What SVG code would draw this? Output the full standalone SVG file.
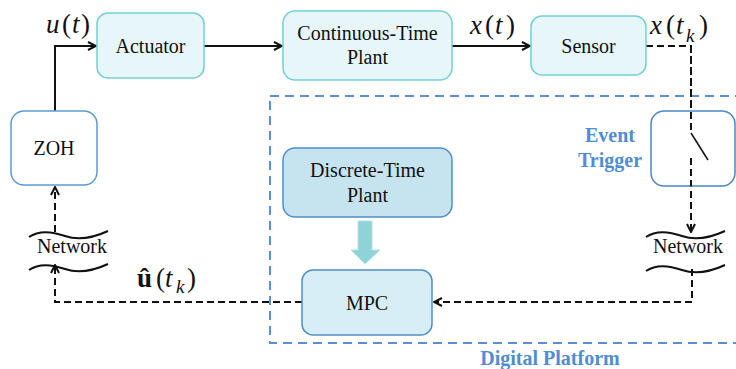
<svg xmlns="http://www.w3.org/2000/svg" width="736" height="369" viewBox="0 0 736 369">
  <style>
    .lbl { font-family: "Liberation Serif", "Times New Roman", serif; font-size: 20px; fill: #111; text-anchor: middle; }
    .math { font-family: "Liberation Serif", "Times New Roman", serif; font-size: 27px; fill: #111; }
    .it { font-style: italic; }
    .blue { font-family: "Liberation Serif", "Times New Roman", serif; font-size: 20px; font-weight: bold; fill: #4f8ed2; text-anchor: middle; }
    .cont { fill: #e6f6f9; stroke: #74cfd3; stroke-width: 1.5; }
    .zoh { fill: #ffffff; stroke: #5b9bd5; stroke-width: 1.5; }
    .digi { stroke: #4f8fc8; stroke-width: 1.5; }
    .solid { fill: none; stroke: #111; stroke-width: 2; }
    .dash { fill: none; stroke: #111; stroke-width: 2; stroke-dasharray: 7 4; }
    .wave { fill: none; stroke: #111; stroke-width: 2; }
  </style>
  <defs>
    <marker id="arr" viewBox="0 0 10 10" refX="9" refY="5" markerWidth="10" markerHeight="10" markerUnits="userSpaceOnUse" orient="auto">
      <path d="M1,1 L9,5 L1,9" fill="none" stroke="#111" stroke-width="2"/>
    </marker>
  </defs>

  <!-- digital platform boundary -->
  <g id="digital-platform">
    <rect x="270" y="96" width="480" height="247" fill="none" stroke="#5b8ed2" stroke-width="2" stroke-dasharray="9 6"/>
    <text class="blue" x="550" y="365">Digital Platform</text>
  </g>

  <!-- connectors -->
  <g id="connectors">
    <polyline class="solid" points="55,111 55,46 96,46" marker-end="url(#arr)"/>
    <line class="solid" x1="204" y1="46" x2="282" y2="46" marker-end="url(#arr)"/>
    <line class="solid" x1="452" y1="46" x2="530" y2="46" marker-end="url(#arr)"/>
    <polyline class="dash" points="646,46 691,46 691,133"/>
    <line class="dash" x1="691" y1="158" x2="691" y2="232" marker-end="url(#arr)"/>
    <polyline class="dash" points="692,269 692,302 434,302" marker-end="url(#arr)"/>
    <polyline class="dash" points="302,302 55,302 55,265" marker-end="url(#arr)"/>
    <line class="dash" x1="55" y1="232" x2="55" y2="187" marker-end="url(#arr)"/>
    <!-- model hand-off arrow -->
    <polygon points="358,221 372,221 372,250 380,250 365,264 351,250 358,250" fill="#8dd3d7" stroke="#b5e3e6" stroke-width="1"/>
  </g>

  <g id="actuator">
    <rect class="cont" x="97" y="13" width="107" height="65" rx="11"/>
    <text class="lbl" x="150.5" y="53">Actuator</text>
  </g>

  <g id="continuous-plant">
    <rect class="cont" x="283" y="11" width="169" height="69" rx="12"/>
    <text class="lbl" x="367.5" y="40">Continuous-Time</text>
    <text class="lbl" x="367.5" y="64">Plant</text>
  </g>

  <g id="sensor">
    <rect class="cont" x="531" y="16" width="115" height="59" rx="11"/>
    <text class="lbl" x="588.5" y="53">Sensor</text>
  </g>

  <g id="zoh">
    <rect class="zoh" x="11" y="111" width="86" height="74" rx="13"/>
    <text class="lbl" x="54" y="155">ZOH</text>
  </g>

  <g id="discrete-plant">
    <rect class="digi" fill="#c6e4ef" x="283" y="148" width="169" height="69" rx="12"/>
    <text class="lbl" x="367.5" y="177">Discrete-Time</text>
    <text class="lbl" x="367.5" y="202">Plant</text>
  </g>

  <g id="mpc">
    <rect class="digi" fill="#d8eef7" x="302" y="270" width="130" height="65" rx="11"/>
    <text class="lbl" x="367" y="310">MPC</text>
  </g>

  <g id="event-trigger">
    <rect x="651" y="111" width="84" height="75" rx="13" fill="#ffffff" stroke="#4a86c8" stroke-width="1.5"/>
    <line class="dash" x1="691" y1="46" x2="691" y2="133"/>
    <line x1="691" y1="133" x2="708" y2="160" stroke="#111" stroke-width="1.5"/>
    <line class="dash" x1="691" y1="158" x2="691" y2="186"/>
    <text class="blue" x="610" y="142">Event</text>
    <text class="blue" x="610" y="167">Trigger</text>
  </g>

  <g id="network-uplink">
    <path class="wave" d="M646,237 C656,230 668,231 682,236 S712,237 725,231"/>
    <text class="lbl" x="688" y="253">Network</text>
    <path class="wave" d="M646,271 C656,264 668,265 682,270 S712,271 725,265"/>
  </g>

  <g id="network-downlink">
    <path class="wave" d="M29,237 C39,230 51,231 65,236 S95,237 108,231"/>
    <text class="lbl" x="72" y="253">Network</text>
    <path class="wave" d="M29,270 C39,263 51,264 65,269 S95,270 108,264"/>
  </g>

  <!-- signal labels -->
  <g id="signals">
    <text class="math" y="33"><tspan class="it" x="46">u</tspan><tspan x="62">(</tspan><tspan class="it" x="72">t</tspan><tspan x="81">)</tspan></text>
    <text class="math" y="34"><tspan class="it" x="470">x</tspan><tspan x="485">(</tspan><tspan class="it" x="495">t</tspan><tspan x="506">)</tspan></text>
    <text class="math" y="34"><tspan class="it" x="650">x</tspan><tspan x="666">(</tspan><tspan class="it" x="676">t</tspan><tspan x="686" dy="8" class="it" font-size="19">k</tspan><tspan x="699" dy="-8">)</tspan></text>
    <text class="math" y="287"><tspan x="137" font-weight="bold">û</tspan><tspan x="156">(</tspan><tspan class="it" x="165">t</tspan><tspan x="176" dy="6" class="it" font-size="19">k</tspan><tspan x="187" dy="-6">)</tspan></text>
  </g>
</svg>
